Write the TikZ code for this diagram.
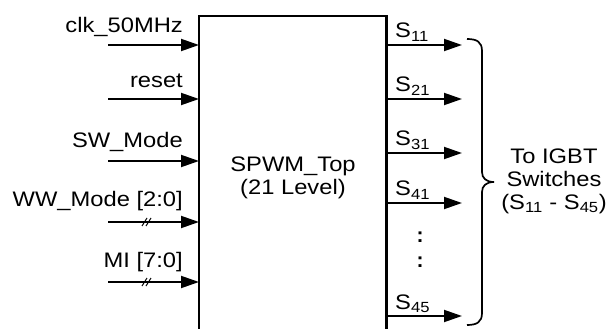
\documentclass[tikz,border=0pt]{standalone}
\usepackage{fontspec}
\setmainfont{Liberation Sans}
\usetikzlibrary{arrows.meta}
\newcommand{\wt}[1]{\scalebox{1.13}[1]{#1}}
\begin{document}
\begin{tikzpicture}[x=1pt,y=-1pt,
  sig/.style={line width=1.9pt, -{Triangle[length=18pt,width=12pt]}},
  lbl/.style={font=\fontsize{21}{23}\selectfont, inner sep=0pt},
  slash/.style={line width=1pt},
  boxline/.style={line width=2.6pt}]
\useasboundingbox[fill=white] (0,0) rectangle (606,329);
% main block (bottom runs past the picture edge)
\node[minimum width=187pt, minimum height=330pt, anchor=north west, inner sep=0pt] (top) at (199,16) {};
\draw[boxline] (top.south west) |- (top.north east) -- (top.south east);
\node[lbl, align=center] (ctr) at (293,178) {\wt{SPWM\_Top}\\\wt{(21 Level)}};
% inputs
\coordinate (i1) at (108,45);
\coordinate (i2) at (108,99);
\coordinate (i3) at (108,161);
\coordinate (i4) at (108,222);
\coordinate (i5) at (108,282);
\foreach \i in {1,...,5} { \draw[sig] (i\i) -- (i\i -| top.west); }
\node[lbl, anchor=base east] (l1) at (183,33) {\wt{clk\_50MHz}};
\node[lbl, anchor=base east] (l2) at (183,88) {\wt{reset}};
\node[lbl, anchor=base east] (l3) at (183,148) {\wt{SW\_Mode}};
\node[lbl, anchor=base east] (l4) at (183,206) {\wt{WW\_Mode [2:0]}};
\node[lbl, anchor=base east] (l5) at (183,267) {\wt{MI [7:0]}};
% bus slashes
\draw[slash] (142,226) -- (147,218);
\draw[slash] (146,226) -- (151,218);
\draw[slash] (142,286) -- (147,278);
\draw[slash] (146,286) -- (151,278);
% outputs
\coordinate (o1) at (462,45);
\coordinate (o2) at (462,99);
\coordinate (o3) at (462,153);
\coordinate (o4) at (462,203);
\coordinate (o5) at (462,316);
\foreach \i in {1,...,5} { \draw[sig] (o\i -| top.east) -- (o\i); }
\node[lbl, anchor=base west] (s1) at (395,38) {\wt{S\textsubscript{11}}};
\node[lbl, anchor=base west] (s2) at (395,92) {\wt{S\textsubscript{21}}};
\node[lbl, anchor=base west] (s3) at (395,146) {\wt{S\textsubscript{31}}};
\node[lbl, anchor=base west] (s4) at (395,196) {\wt{S\textsubscript{41}}};
\node[lbl, anchor=base west] (s5) at (395,309) {\wt{S\textsubscript{45}}};
\node[lbl, font=\fontsize{21}{23}\bfseries] (d1) at (420,237) {:};
\node[lbl, font=\fontsize{21}{23}\bfseries] (d2) at (420,262) {:};
% brace
\draw[line width=1.7pt] (467,39) .. controls (477,39) and (482,42) .. (482,51)
  -- (482,172) .. controls (482,178) and (486,182) .. (494,182)
  .. controls (486,182) and (482,186) .. (482,192)
  -- (482,313) .. controls (482,322) and (477,325) .. (467,325);
\node[lbl, align=center] (rt) at (554,181) {\wt{To IGBT}\\\wt{Switches}\\\wt{(S\textsubscript{11} - S\textsubscript{45})}};
\end{tikzpicture}
\end{document}
